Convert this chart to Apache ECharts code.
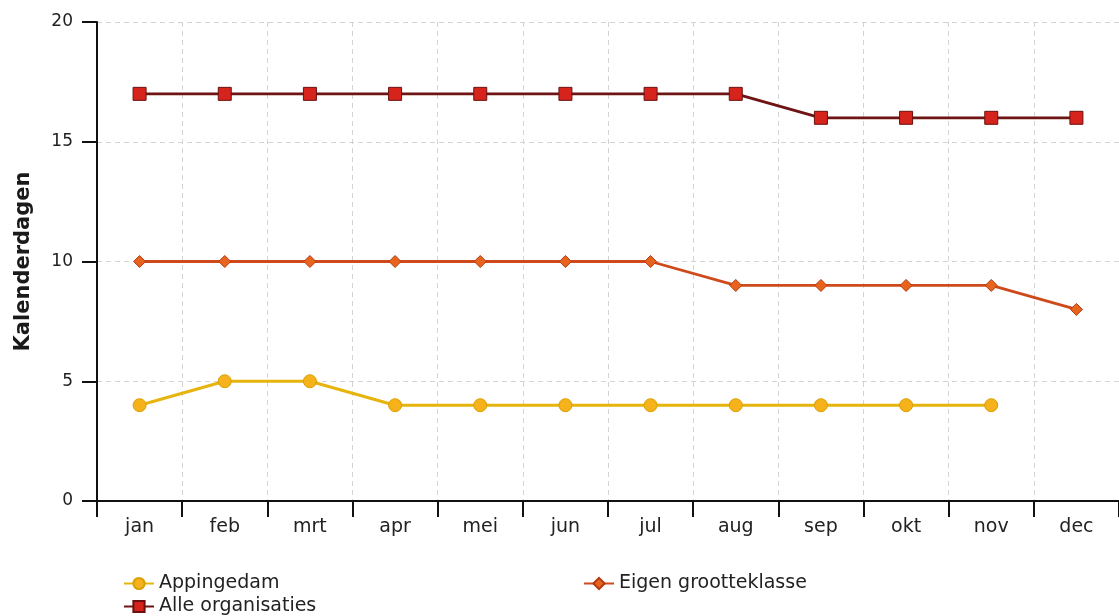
<!DOCTYPE html>
<html><head><meta charset="utf-8">
<script src="https://cdn.jsdelivr.net/npm/echarts@6/dist/echarts.min.js"></script>
<style>html,body{margin:0;padding:0;background:#fff}#c{width:1119px;height:616px}</style>
</head><body><div id="c"></div>
<script>
const months = ['jan','feb','mrt','apr','mei','jun','jul','aug','sep','okt','nov','dec'];
const appingedam = [4,5,5,4,4,4,4,4,4,4,4,null];
const eigenGrootteklasse = [10,10,10,10,10,10,10,9,9,9,9,8];
const alleOrganisaties = [17,17,17,17,17,17,17,17,16,16,16,16];
const yTicks = [0,5,10,15,20];

const chart = echarts.init(document.getElementById('c'));
const font = 'DejaVu Sans, Verdana, sans-serif';
const legText = {fontSize:19, color:'#222', fontFamily:font};
chart.setOption({
  animation:false,
  textStyle:{fontFamily:font},
  grid:{left:97, top:22, width:1024, height:479},
  xAxis:{type:'category', data:months, boundaryGap:true,
    axisLine:{lineStyle:{color:'#111', width:2}},
    axisTick:{show:true, alignWithLabel:false, length:16, inside:false, lineStyle:{color:'#111', width:2}},
    axisLabel:{color:'#222', fontSize:19, margin:17, fontFamily:font},
    splitLine:{show:true, lineStyle:{color:'#d4d4d4', type:[5,4]}}
  },
  yAxis:{type:'value', min:yTicks[0], max:yTicks[yTicks.length-1], interval:5,
    name:'Kalenderdagen', nameLocation:'middle', nameGap:63, nameRotate:90,
    nameTextStyle:{fontSize:21, fontWeight:'bold', color:'#1a1a1a', fontFamily:font},
    axisLine:{show:true, lineStyle:{color:'#111', width:2}},
    axisTick:{show:true, length:15, lineStyle:{color:'#111', width:2}},
    axisLabel:{color:'#222', fontSize:17, margin:24, fontFamily:font},
    splitLine:{show:true, lineStyle:{color:'#d4d4d4', type:[5,4]}}
  },
  legend:[
    {left:118, top:569, itemWidth:30, itemHeight:14, textStyle:legText, data:['Appingedam']},
    {left:118, top:592, itemWidth:30, itemHeight:14, textStyle:legText, data:['Alle organisaties']},
    {left:578, top:569, itemWidth:30, itemHeight:14, textStyle:legText, data:['Eigen grootteklasse']}
  ],
  series:[
    {name:'Appingedam', type:'line', data:appingedam, symbol:'circle', symbolSize:13,
     lineStyle:{color:'#e6b40c', width:3},
     itemStyle:{color:'#f5b21a', borderColor:'#d9a000', borderWidth:1}},
    {name:'Eigen grootteklasse', type:'line', data:eigenGrootteklasse, symbol:'diamond', symbolSize:12,
     lineStyle:{color:'#cf4a1a', width:2.8},
     itemStyle:{color:'#e8641e', borderColor:'#b23a10', borderWidth:1}},
    {name:'Alle organisaties', type:'line', data:alleOrganisaties, symbol:'rect', symbolSize:13,
     lineStyle:{color:'#6e1414', width:2.8},
     itemStyle:{color:'#d6231c', borderColor:'#6a1010', borderWidth:1}}
  ]
});
</script></body></html>
